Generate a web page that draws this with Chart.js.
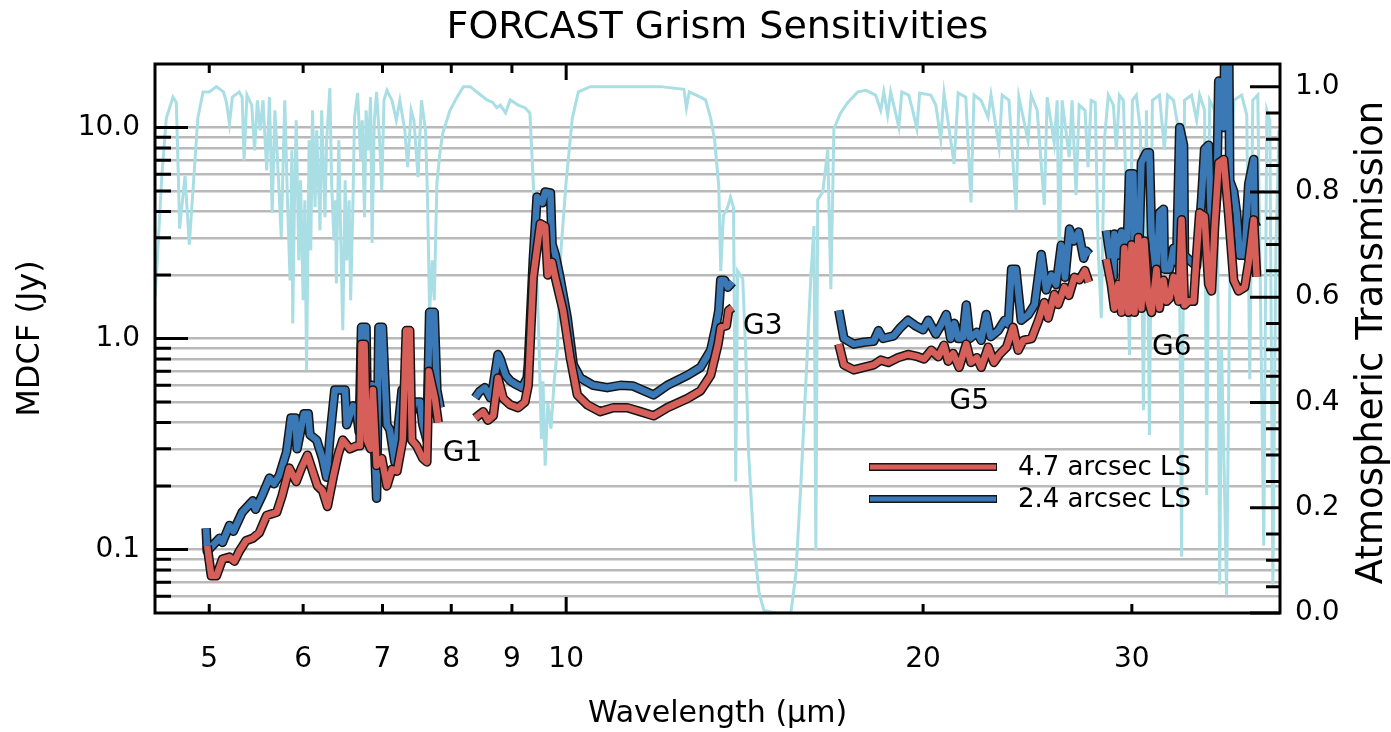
<!DOCTYPE html>
<html>
<head>
<meta charset="utf-8">
<script src="https://cdn.jsdelivr.net/npm/chart.js@4/dist/chart.umd.min.js"></script>
<style>
  html, body { margin: 0; padding: 0; background: #fff; }
  canvas { display: block; }
</style>
</head>
<body>
<canvas id="c" width="1391" height="732"></canvas>
<script>
// --- data: [wavelength (um), value] ---

// atmospheric transmission (right axis)
var atmTrans = [
  [4.50,0.60],[4.52,0.67],[4.56,0.83],[4.60,0.94],[4.66,0.98],[4.69,0.97],[4.71,0.82],[4.72,0.73],
  [4.77,0.83],[4.81,0.70],[4.85,0.82],[4.89,0.94],[4.94,0.99],[5.00,0.99],[5.07,1.00],[5.14,0.99],
  [5.17,0.97],[5.20,0.93],[5.23,0.98],[5.30,0.99],[5.33,0.98],
  [5.35,0.86],[5.38,0.984],[5.43,0.965],[5.46,0.879],[5.49,0.974],[5.52,0.917],[5.55,0.974],[5.59,0.841],
  [5.62,0.98],[5.65,0.76],[5.68,0.955],[5.72,0.822],[5.75,0.714],[5.79,0.974],[5.82,0.784],[5.85,0.632],
  [5.87,0.879],[5.88,0.55],[5.90,0.784],[5.92,0.936],[5.95,0.67],[5.97,0.822],[6.00,0.594],[6.02,0.784],
  [6.04,0.461],[6.07,0.898],[6.09,0.689],[6.11,0.955],[6.14,0.771],[6.16,0.917],[6.20,0.727],[6.22,0.955],
  [6.26,0.752],[6.28,0.898],[6.32,0.997],[6.34,0.822],[6.37,0.708],[6.39,0.784],[6.40,0.626],[6.43,0.898],
  [6.45,0.746],[6.48,0.537],[6.51,0.822],[6.53,0.67],[6.56,0.784],[6.58,0.594],[6.61,0.784],[6.63,0.942],
  [6.67,0.988],[6.71,0.86],[6.73,0.936],[6.76,0.752],[6.78,0.955],[6.81,0.879],[6.84,0.98],[6.86,0.703],
  [6.89,0.936],[6.92,0.99],[6.96,0.898],[6.99,0.803],[7.02,0.974],[7.06,0.993],[7.13,0.974],[7.19,0.936],
  [7.24,0.974],[7.31,0.917],[7.35,0.847],[7.40,0.955],[7.44,0.936],[7.50,0.828],[7.55,0.974],[7.61,0.917],
  [7.64,0.784],[7.67,0.57],[7.71,0.67],[7.74,0.594],[7.78,0.817],[7.83,0.879],[7.87,0.912],[7.98,0.955],[8.09,0.98],
  [8.19,1.00],[8.30,1.00],[8.46,0.985],[8.57,0.975],[8.67,0.97],[8.74,0.96],[8.80,0.965],[8.89,0.95],
  [8.97,0.975],[9.11,0.965],[9.23,0.96],[9.32,0.95],[9.38,0.82],[9.45,0.63],[9.49,0.50],[9.53,0.33],
  [9.56,0.44],[9.60,0.28],[9.65,0.40],[9.71,0.35],[9.77,0.44],[9.83,0.50],[9.90,0.69],[10.0,0.82],
  [10.12,0.94],[10.24,0.99],[10.48,1.00],[11.11,1.00],[12.01,1.00],[12.57,0.995],[12.63,0.96],[12.70,0.99],
  [12.98,0.98],[13.11,0.975],[13.24,0.94],[13.34,0.90],[13.45,0.81],[13.50,0.65],[13.57,0.755],[13.68,0.77],
  [13.76,0.79],[13.84,0.77],[13.90,0.25],[13.95,0.65],[14.09,0.635],[14.17,0.50],[14.25,0.305],[14.39,0.14],
  [14.54,0.04],[14.68,0.005],[15.03,0.0],[15.47,0.0],[15.62,0.073],[15.77,0.24],[15.93,0.44],[16.08,0.635],
  [16.18,0.735],[16.24,0.12],[16.30,0.785],[16.46,0.80],[16.62,0.88],[16.72,0.615],[16.82,0.92],[17.04,0.95],
  [17.28,0.97],[17.62,0.99],[17.90,0.993],[18.24,0.984],[18.42,0.955],[18.53,0.99],[18.67,0.946],[18.78,0.99],
  [19.08,0.923],[19.19,0.99],[19.45,0.984],[19.60,0.955],[19.76,0.92],[19.87,0.988],[20.30,0.984],[20.50,0.965],
  [20.70,0.90],[20.83,0.988],[21.24,0.853],[21.41,0.988],[21.73,0.98],[21.95,0.78],[22.08,0.984],[22.38,0.974],
  [22.69,0.942],[22.82,0.984],[23.18,0.885],[23.32,0.984],[23.63,0.974],[23.96,0.765],[24.09,0.98],[24.52,0.898],
  [24.67,0.984],[24.96,0.955],[25.31,0.775],[25.45,0.98],[25.80,0.893],[25.95,0.974],[26.05,0.66],[26.20,0.974],
  [26.56,0.866],[26.71,0.974],[26.92,0.794],[27.08,0.965],[27.39,0.955],[27.55,0.847],[27.72,0.974],
  [27.94,0.97],[28.10,0.69],[28.27,0.56],[28.44,0.898],[28.66,0.984],[28.94,0.965],[29.11,0.88],[29.28,0.984],
  [29.51,0.974],[29.68,0.784],[29.86,0.49],[30.03,0.974],[30.26,0.984],[30.50,0.917],[30.68,0.385],[30.86,0.955],
  [31.04,0.338],[31.22,0.974],[31.65,0.984],[31.96,0.88],[32.15,0.984],[32.53,0.974],[32.85,0.917],[33.04,0.107],
  [33.23,0.974],[33.69,0.984],[34.02,0.936],[34.22,0.984],[34.55,0.955],[34.69,0.224],[34.89,0.974],[35.23,0.955],
  [35.44,0.69],[35.58,0.054],[35.71,0.50],[35.86,0.31],[36.06,0.033],[36.27,0.594],[36.56,0.974],[37.13,0.984],
  [37.50,0.946],[37.72,0.444],[37.94,0.974],[38.31,0.984],[38.76,0.128],[38.99,0.955],[39.22,0.936],[39.45,0.054],
  [39.68,0.69],[39.92,0.917],[40.1,0.784]
];

// MDCF (Jy), 2.4 arcsec slit
var g1Blue = [[4.97,0.126],[4.98,0.098],[5.10,0.113],[5.13,0.108],[5.20,0.13],[5.24,0.122],[5.33,0.15],[5.44,0.17],
  [5.47,0.155],[5.54,0.18],[5.62,0.218],[5.67,0.205],[5.73,0.225],[5.81,0.29],[5.86,0.42],[5.91,0.42],[5.93,0.30],
  [6.01,0.44],[6.06,0.44],[6.08,0.35],[6.16,0.33],[6.23,0.27],[6.28,0.22],[6.32,0.34],[6.38,0.57],[6.51,0.57],
  [6.53,0.39],[6.61,0.48],[6.65,0.47],[6.69,0.36],[6.72,1.13],[6.78,1.13],[6.80,0.36],[6.86,0.60],[6.92,0.175],
  [6.95,1.13],[7.00,1.13],[7.06,0.39],[7.10,0.37],[7.17,0.26],[7.21,0.36],[7.27,0.57],[7.31,0.55],[7.36,0.39],
  [7.45,0.50],[7.53,0.50],[7.57,0.39],[7.63,0.33],[7.67,1.33],[7.74,1.33],[7.78,0.57],[7.83,0.47]];
var g3Blue = [[8.38,0.524],[8.45,0.56],[8.54,0.585],[8.63,0.524],[8.68,0.60],[8.76,0.84],[8.80,0.80],[8.89,0.67],
  [8.97,0.63],[9.05,0.61],[9.18,0.585],[9.27,0.65],[9.29,0.75],[9.38,2.35],[9.45,4.69],[9.55,4.4],[9.60,4.95],
  [9.70,4.9],[9.73,2.8],[9.79,2.5],[9.88,1.95],[10.02,1.26],[10.14,0.75],[10.28,0.65],[10.54,0.60],[10.83,0.585],
  [11.11,0.60],[11.39,0.595],[11.85,0.54],[12.17,0.60],[12.66,0.67],[12.98,0.73],[13.24,0.88],[13.37,1.13],
  [13.45,1.36],[13.50,1.89],[13.60,1.89],[13.69,1.75],[13.81,1.85]];
var g5Blue = [[16.98,1.36],[17.15,1.0],[17.48,0.94],[17.82,0.96],[18.17,0.97],[18.34,1.09],[18.5,1.0],[18.89,1.03],
  [19.15,1.13],[19.42,1.22],[19.7,1.15],[20.0,1.10],[20.2,1.22],[20.5,1.05],[20.7,1.15],[20.92,1.30],[21.1,1.0],
  [21.25,1.18],[21.41,1.0],[21.6,1.0],[21.75,1.44],[21.9,1.0],[22.2,1.07],[22.39,0.98],[22.61,1.30],[22.8,1.02],
  [23.14,1.09],[23.43,1.22],[23.6,1.17],[23.75,2.13],[23.95,2.13],[24.2,1.22],[24.54,1.30],[24.84,1.45],[25.16,2.5],
  [25.4,1.70],[25.66,2.0],[25.9,1.80],[26.16,2.77],[26.35,1.95],[26.58,3.3],[26.8,2.9],[27.05,3.2],[27.32,2.4],
  [27.45,2.6],[27.64,2.5]];
var g6Blue = [[28.55,3.25],[28.72,2.58],[28.94,1.96],[29.0,3.13],[29.22,2.48],[29.4,3.2],[29.57,3.13],[29.68,2.04],
  [29.86,6.04],[30.09,6.04],[30.15,2.78],[30.38,2.13],[30.56,6.8],[30.86,7.6],[31.04,7.6],[31.17,3.13],[31.47,1.96],
  [31.65,3.94],[31.9,4.1],[31.96,2.13],[32.28,2.13],[32.53,2.68],[32.72,2.3],[32.92,10.0],[33.17,8.25],[33.23,2.48],
  [33.69,2.3],[34.02,2.2],[34.35,4.6],[34.55,7.9],[34.82,8.25],[35.02,2.9],[35.37,4.6],[35.51,16.6],[35.86,10.0],
  [35.93,25],[36.21,25],[36.28,5.6],[36.56,4.98],[36.77,3.94],[36.99,2.48],[37.35,2.48],[37.64,5.4],[38.01,7.06],
  [38.08,3.53],[38.23,3.37]];

// MDCF (Jy), 4.7 arcsec slit
var g1Red = [[4.98,0.104],[5.02,0.075],[5.07,0.075],[5.13,0.09],[5.20,0.092],[5.25,0.088],[5.30,0.098],[5.37,0.11],
  [5.44,0.113],[5.51,0.12],[5.59,0.145],[5.70,0.15],[5.76,0.18],[5.84,0.243],[5.92,0.21],[5.98,0.243],[6.05,0.28],
  [6.10,0.243],[6.17,0.20],[6.23,0.19],[6.29,0.16],[6.36,0.22],[6.42,0.28],[6.48,0.33],[6.57,0.30],[6.66,0.31],
  [6.70,0.31],[6.72,0.94],[6.76,0.94],[6.79,0.33],[6.84,0.30],[6.87,0.57],[6.92,0.25],[6.99,0.27],[7.06,0.20],
  [7.13,0.24],[7.20,0.235],[7.28,0.33],[7.33,1.09],[7.38,1.09],[7.41,0.33],[7.48,0.31],[7.57,0.27],[7.63,0.26],
  [7.66,0.70],[7.75,0.52],[7.80,0.40]];
var g3Red = [[8.38,0.42],[8.51,0.45],[8.59,0.41],[8.68,0.43],[8.76,0.65],[8.85,0.52],[8.97,0.485],[9.11,0.47],
  [9.23,0.50],[9.29,0.60],[9.38,1.95],[9.51,3.5],[9.60,3.4],[9.65,2.0],[9.73,2.3],[9.79,1.95],[9.94,1.36],
  [10.08,0.81],[10.22,0.54],[10.42,0.485],[10.68,0.45],[10.96,0.47],[11.26,0.47],[11.55,0.45],[11.85,0.43],
  [12.17,0.47],[12.66,0.52],[12.98,0.565],[13.24,0.67],[13.43,0.94],[13.50,1.13],[13.65,1.15],[13.71,1.36],[13.81,1.40]];
var g5Red = [[16.98,0.94],[17.15,0.75],[17.48,0.71],[17.82,0.73],[18.17,0.75],[18.42,0.79],[18.7,0.77],[19.04,0.81],
  [19.42,0.84],[19.8,0.82],[20.04,0.80],[20.32,0.88],[20.6,0.82],[20.83,0.93],[21.0,0.78],[21.2,0.85],[21.45,0.73],
  [21.75,0.94],[21.95,0.77],[22.2,0.81],[22.39,0.73],[22.7,0.91],[22.95,0.77],[23.19,0.84],[23.52,0.91],[23.82,1.13],
  [24.06,0.88],[24.29,0.98],[24.69,1.0],[25.03,1.22],[25.31,1.48],[25.5,1.25],[25.81,1.62],[26.0,1.45],[26.32,1.75],
  [26.55,1.60],[26.83,1.95],[27.1,1.90],[27.38,2.1],[27.59,1.85]];
var g6Red = [[28.55,2.38],[28.82,1.81],[29.0,1.39],[29.22,1.81],[29.4,1.33],[29.57,2.68],[29.8,1.33],[29.98,2.78],
  [30.15,1.33],[30.38,3.01],[30.56,1.39],[30.74,2.9],[30.98,1.5],[31.17,1.33],[31.47,2.13],[31.65,1.39],[31.9,1.89],
  [32.09,1.5],[32.28,1.55],[32.53,1.96],[32.85,1.5],[33.04,3.65],[33.23,1.44],[33.49,1.5],[33.82,1.5],[34.02,2.48],
  [34.22,3.94],[34.55,3.8],[34.82,1.81],[35.02,1.68],[35.23,3.37],[35.51,6.8],[35.86,7.06],[36.21,3.8],[36.56,1.89],
  [36.91,1.68],[37.35,1.75],[37.64,2.3],[38.01,3.65],[38.23,1.96]];

// axes
var xTicks = [5, 6, 7, 8, 9, 10, 20, 30];
var xMajor = [10];
var yTicks = [0.06, 0.07, 0.08, 0.09, 0.1, 0.2, 0.3, 0.4, 0.5, 0.6, 0.7, 0.8, 0.9,
              1, 2, 3, 4, 5, 6, 7, 8, 9, 10];
var yMajor = [0.1, 1, 10];
var y2Labels = [0, 0.2, 0.4, 0.6, 0.8, 1.0];
var y2Minor = [];
for (var i = 0; i <= 20; i++) y2Minor.push(i * 0.05);

var grismLabels = [['G1', 7.87, 0.285], ['G3', 14.1, 1.14], ['G5', 21.05, 0.50], ['G6', 31.2, 0.90]];
var legendItems = [['4.7 arcsec LS', '#d65f5a'], ['2.4 arcsec LS', '#3b79b6']];

var RED = '#d65f5a', BLUE = '#3b79b6', CYAN = '#a9dee5', EDGE = '#151515';
var FONT = 'DejaVu Sans';

function toPts(arr) {
  return arr.map(function (p) { return { x: p[0], y: p[1] }; });
}
// join grism segments, with a null between them so the line breaks
function joined() {
  var out = [];
  for (var i = 0; i < arguments.length; i++) {
    if (i > 0) out.push({ x: arguments[i][0][0], y: null });
    out = out.concat(toPts(arguments[i]));
  }
  return out;
}

var bluePts = joined(g1Blue, g3Blue, g5Blue, g6Blue);
var redPts = joined(g1Red, g3Red, g5Red, g6Red);

function lineSet(pts, color, width, order) {
  return { data: pts, borderColor: color, borderWidth: width, pointRadius: 0,
           tension: 0, borderJoinStyle: 'round', order: order, clip: 0, yAxisID: 'y' };
}

// inward tick marks, frame, labels
var decor = {
  id: 'decor',
  afterDatasetsDraw: function (chart) {
    var ctx = chart.ctx, s = chart.scales;
    ctx.save();
    ctx.fillStyle = '#000';
    ctx.font = '28px "' + FONT + '"';
    ctx.textBaseline = 'middle';
    grismLabels.forEach(function (g) {
      ctx.fillText(g[0], s.x.getPixelForValue(g[1]), s.y.getPixelForValue(g[2]));
    });
    // legend
    legendItems.forEach(function (it, k) {
      var y = 467 + k * 32;
      ctx.lineCap = 'butt';
      ctx.strokeStyle = EDGE; ctx.lineWidth = 8;
      ctx.beginPath(); ctx.moveTo(869, y); ctx.lineTo(997, y); ctx.stroke();
      ctx.strokeStyle = it[1]; ctx.lineWidth = 5;
      ctx.beginPath(); ctx.moveTo(870, y); ctx.lineTo(996, y); ctx.stroke();
      ctx.fillStyle = '#000';
      ctx.font = '26px "' + FONT + '"';
      ctx.fillText(it[0], 1018, y + 1);
    });
    ctx.restore();
  },
  afterDraw: function (chart) {
    var ctx = chart.ctx, a = chart.chartArea, s = chart.scales;
    ctx.save();
    ctx.strokeStyle = '#000';
    ctx.lineWidth = 3;
    ctx.beginPath();
    yTicks.forEach(function (v) {
      var y = s.y.getPixelForValue(v);
      ctx.moveTo(a.left, y); ctx.lineTo(a.left + (yMajor.indexOf(v) >= 0 ? 33 : 16), y);
    });
    y2Minor.forEach(function (v, k) {
      var y = s.y2.getPixelForValue(v);
      ctx.moveTo(a.right, y); ctx.lineTo(a.right - (k % 4 === 0 ? 30 : 14), y);
    });
    xTicks.forEach(function (v) {
      var x = s.x.getPixelForValue(v);
      var len = xMajor.indexOf(v) >= 0 ? 16 : 9;
      ctx.moveTo(x, a.bottom); ctx.lineTo(x, a.bottom - len);
      ctx.moveTo(x, a.top); ctx.lineTo(x, a.top + len);
    });
    ctx.stroke();
    ctx.strokeRect(a.left, a.top, a.right - a.left, a.bottom - a.top);

    ctx.fillStyle = '#000';
    ctx.textAlign = 'center';
    ctx.textBaseline = 'middle';
    ctx.font = '38px "' + FONT + '"';
    ctx.fillText('FORCAST Grism Sensitivities', (a.left + a.right) / 2, 28);
    ctx.translate(1372, (a.top + a.bottom) / 2 + 4);
    ctx.rotate(-Math.PI / 2);
    ctx.font = '37px "' + FONT + '"';
    ctx.fillText('Atmospheric Transmission', 0, 0);
    ctx.restore();
  }
};

Chart.defaults.font.family = FONT;
Chart.defaults.color = '#000';

new Chart(document.getElementById('c'), {
  type: 'line',
  data: {
    datasets: [
      { data: toPts(atmTrans), borderColor: CYAN, borderWidth: 3, pointRadius: 0, tension: 0,
        order: 5, clip: 0, yAxisID: 'y2' },
      lineSet(bluePts, EDGE, 9.5, 4),
      lineSet(bluePts, BLUE, 6.5, 3),
      lineSet(redPts, EDGE, 9.5, 2),
      lineSet(redPts, RED, 6.5, 1)
    ]
  },
  options: {
    responsive: false,
    animation: false,
    events: [],
    layout: { padding: { top: 64, left: 0, right: 0, bottom: 0 } },
    plugins: { legend: { display: false }, tooltip: { enabled: false }, title: { display: false } },
    scales: {
      x: {
        type: 'logarithmic', position: 'bottom', min: 4.5, max: 40,
        afterBuildTicks: function (sc) { sc.ticks = xTicks.map(function (v) { return { value: v }; }); },
        afterFit: function (sc) { sc.height = 119; },
        grid: { display: false, drawTicks: false },
        border: { display: false },
        ticks: { autoSkip: false, maxRotation: 0, padding: 30, font: { size: 28 },
                 callback: function (v) { return String(v); } },
        title: { display: true, text: 'Wavelength (\u03bcm)', font: { size: 30 }, padding: { top: 0, bottom: 0 } }
      },
      y: {
        type: 'logarithmic', position: 'left', min: 0.05, max: 20,
        afterBuildTicks: function (sc) { sc.ticks = yTicks.map(function (v) { return { value: v }; }); },
        afterFit: function (sc) { sc.width = 155; },
        grid: { color: '#b9b9b9', lineWidth: 2.6, drawTicks: false },
        border: { display: false },
        ticks: { autoSkip: false, padding: 15, font: { size: 28 },
                 callback: function (v) { return yMajor.indexOf(v) >= 0 ? (v < 1 ? String(v) : v.toFixed(1)) : ''; } },
        title: { display: true, text: 'MDCF (Jy)', font: { size: 32 }, padding: { top: 11 } }
      },
      y2: {
        type: 'linear', position: 'right', min: 0, max: 1.043,
        afterBuildTicks: function (sc) { sc.ticks = y2Labels.map(function (v) { return { value: v }; }); },
        afterFit: function (sc) { sc.width = 111; },
        grid: { display: false, drawTicks: false },
        border: { display: false },
        ticks: { autoSkip: false, padding: 15, font: { size: 28 },
                 callback: function (v) { return Number(v).toFixed(1); } }
      }
    }
  },
  plugins: [decor]
});
</script>
</body>
</html>
